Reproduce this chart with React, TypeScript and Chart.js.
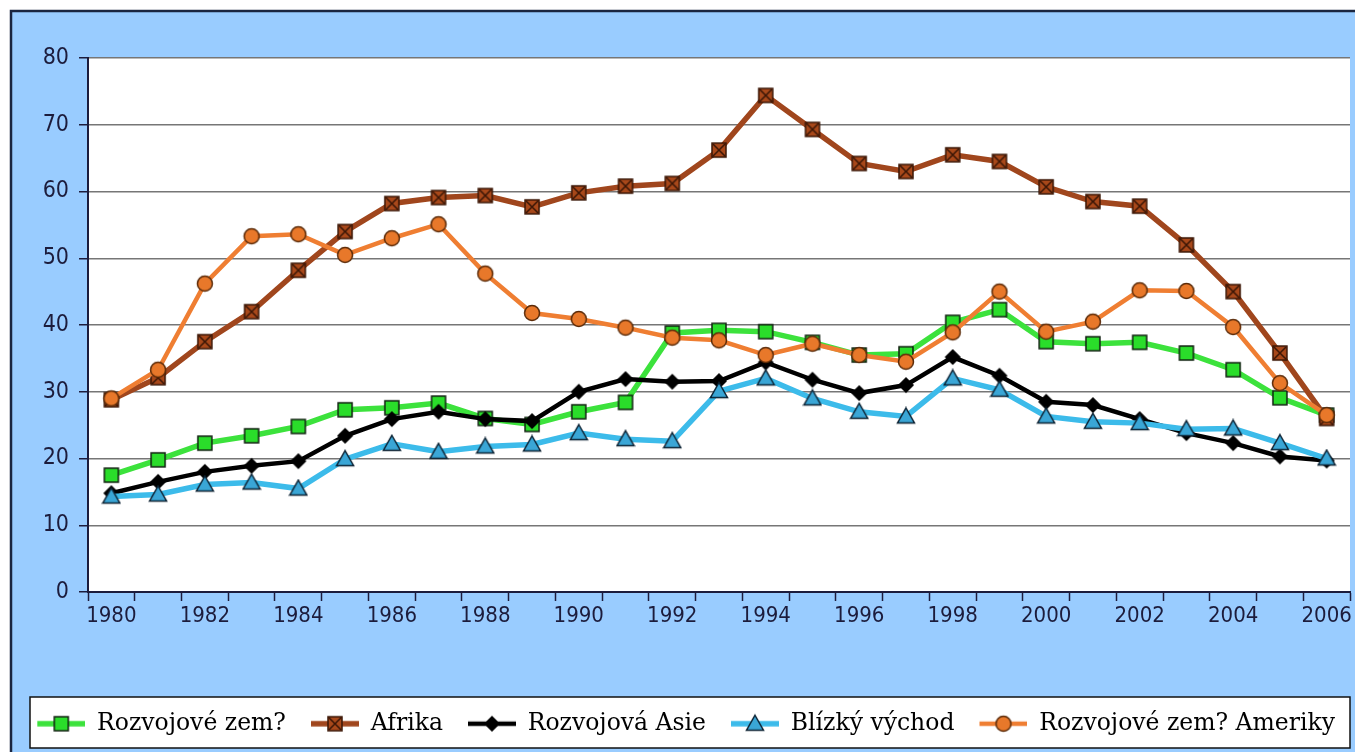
import React, { useEffect, useRef } from 'react';
import { Chart, registerables } from 'chart.js';

Chart.register(...registerables);

const years = [
  '1980', '1981', '1982', '1983', '1984', '1985', '1986', '1987', '1988', '1989',
  '1990', '1991', '1992', '1993', '1994', '1995', '1996', '1997', '1998', '1999',
  '2000', '2001', '2002', '2003', '2004', '2005', '2006',
];

const seriesNames = [
  'Rozvojové zem?',
  'Afrika',
  'Rozvojová Asie',
  'Blízký východ',
  'Rozvojové zem? Ameriky',
];

const rozvojoveZeme = [17.5, 19.8, 22.3, 23.4, 24.8, 27.3, 27.6, 28.3, 26.0, 25.1, 27.0, 28.4, 38.8, 39.2, 39.0, 37.4, 35.5, 35.7, 40.4, 42.3, 37.5, 37.2, 37.4, 35.8, 33.3, 29.1, 26.5];
const afrika = [28.8, 32.1, 37.5, 42.0, 48.2, 54.0, 58.2, 59.1, 59.4, 57.7, 59.8, 60.8, 61.2, 66.2, 74.4, 69.3, 64.2, 63.0, 65.5, 64.5, 60.7, 58.5, 57.8, 52.0, 45.0, 35.8, 26.0];
const rozvojovaAsie = [14.8, 16.5, 18.0, 18.9, 19.6, 23.4, 25.9, 27.0, 25.9, 25.6, 30.0, 31.9, 31.5, 31.6, 34.4, 31.8, 29.8, 31.0, 35.2, 32.4, 28.5, 28.0, 25.9, 23.8, 22.3, 20.3, 19.7];
const blizkyVychod = [14.3, 14.6, 16.1, 16.4, 15.5, 19.9, 22.2, 21.0, 21.8, 22.1, 23.8, 22.9, 22.6, 30.1, 32.0, 29.0, 27.0, 26.3, 32.0, 30.3, 26.3, 25.5, 25.3, 24.4, 24.5, 22.3, 20.0];
const rozvojoveZemeAmeriky = [29.0, 33.3, 46.2, 53.3, 53.6, 50.5, 53.0, 55.1, 47.7, 41.8, 40.9, 39.6, 38.1, 37.7, 35.5, 37.2, 35.5, 34.5, 38.9, 45.0, 39.0, 40.5, 45.2, 45.1, 39.7, 31.3, 26.5];

const yMin = 0;
const yMax = 80;
const yStep = 10;

const AXIS = '#1c1c3c';
const BG = '#99ccff';
const AXIS_FONT = "'Liberation Sans Narrow', 'DejaVu Sans Condensed', 'Liberation Sans', sans-serif";
const LEGEND_FONT = "'DejaVu Serif', serif";

type Kind = 'square' | 'cross' | 'diamond' | 'triangle' | 'circle';

interface Style {
  kind: Kind;
  line: string;
  lineWidth: number;
  fill: string;
  stroke: string;
  order: number;
}

const styles: Style[] = [
  { kind: 'square', line: '#3ce23c', lineWidth: 5.5, fill: '#2add2a', stroke: '#102010', order: 5 },
  { kind: 'cross', line: '#a0461d', lineWidth: 5.5, fill: '#a8481a', stroke: '#3a1606', order: 4 },
  { kind: 'diamond', line: '#000000', lineWidth: 4.5, fill: '#000000', stroke: '#000000', order: 3 },
  { kind: 'triangle', line: '#3cbbea', lineWidth: 5.5, fill: '#3aa6d6', stroke: '#0c2233', order: 2 },
  { kind: 'circle', line: '#ef7e32', lineWidth: 4.5, fill: '#e8782a', stroke: '#5a2a08', order: 1 },
];

function drawMarker(ctx: CanvasRenderingContext2D, st: Style, cx: number, cy: number) {
  ctx.save();
  ctx.fillStyle = st.fill;
  ctx.strokeStyle = st.stroke;
  ctx.lineWidth = 1.5;
  ctx.beginPath();
  if (st.kind === 'square' || st.kind === 'cross') {
    const h = 7;
    ctx.rect(cx - h, cy - h, 2 * h, 2 * h);
    ctx.fill();
    ctx.stroke();
    if (st.kind === 'cross') {
      ctx.beginPath();
      ctx.moveTo(cx - h + 1, cy - h + 1);
      ctx.lineTo(cx + h - 1, cy + h - 1);
      ctx.moveTo(cx + h - 1, cy - h + 1);
      ctx.lineTo(cx - h + 1, cy + h - 1);
      ctx.stroke();
    }
  } else if (st.kind === 'diamond') {
    const r = 7;
    ctx.moveTo(cx, cy - r);
    ctx.lineTo(cx + r, cy);
    ctx.lineTo(cx, cy + r);
    ctx.lineTo(cx - r, cy);
    ctx.closePath();
    ctx.fill();
    ctx.stroke();
  } else if (st.kind === 'triangle') {
    ctx.moveTo(cx, cy - 8.5);
    ctx.lineTo(cx + 8.5, cy + 6.5);
    ctx.lineTo(cx - 8.5, cy + 6.5);
    ctx.closePath();
    ctx.fill();
    ctx.stroke();
  } else {
    ctx.arc(cx, cy, 7.5, 0, Math.PI * 2);
    ctx.fill();
    ctx.stroke();
  }
  ctx.restore();
}

function markerCanvas(st: Style): HTMLCanvasElement {
  const c = document.createElement('canvas');
  c.width = 20;
  c.height = 20;
  const ctx = c.getContext('2d')!;
  drawMarker(ctx, st, 10, 10);
  return c;
}

const ICON_W = 58;
const ICON_LINE = 48;
const ICON_H = 22;

function legendIcon(st: Style): HTMLCanvasElement {
  const c = document.createElement('canvas');
  c.width = ICON_W;
  c.height = ICON_H;
  const ctx = c.getContext('2d')!;
  ctx.strokeStyle = st.line;
  ctx.lineWidth = st.lineWidth;
  ctx.beginPath();
  ctx.moveTo(ICON_W - ICON_LINE, ICON_H / 2);
  ctx.lineTo(ICON_W, ICON_H / 2);
  ctx.stroke();
  drawMarker(ctx, st, ICON_W - ICON_LINE / 2, ICON_H / 2);
  return c;
}

const backgroundPlugin = {
  id: 'excelBackground',
  beforeDraw(chart: any) {
    const { ctx, width, height, chartArea, legend } = chart;
    ctx.save();
    ctx.fillStyle = '#ffffff';
    ctx.fillRect(0, 0, width, height);
    ctx.fillStyle = BG;
    ctx.fillRect(10, 10, width - 10, height - 10);
    ctx.strokeStyle = '#1a2540';
    ctx.lineWidth = 2.5;
    ctx.beginPath();
    ctx.moveTo(11, height);
    ctx.lineTo(11, 11);
    ctx.lineTo(width, 11);
    ctx.stroke();
    ctx.fillStyle = '#ffffff';
    ctx.fillRect(chartArea.left, chartArea.top, chartArea.right - chartArea.left, chartArea.bottom - chartArea.top);
    if (legend) {
      const top = legend.top;
      ctx.fillStyle = '#ffffff';
      ctx.fillRect(30, top, 1320, 51);
      ctx.strokeStyle = '#111111';
      ctx.lineWidth = 1.5;
      ctx.strokeRect(30, top, 1320, 51);
    }
    ctx.restore();
  },
};

export default function App() {
  const ref = useRef<HTMLCanvasElement | null>(null);

  useEffect(() => {
    if (!ref.current) return;
    const seriesData = [rozvojoveZeme, afrika, rozvojovaAsie, blizkyVychod, rozvojoveZemeAmeriky];
    const icons = styles.map(legendIcon);
    const datasets = seriesData.map((d, i) => ({
      label: seriesNames[i],
      data: d,
      borderColor: styles[i].line,
      backgroundColor: styles[i].fill,
      borderWidth: styles[i].lineWidth,
      pointStyle: markerCanvas(styles[i]) as any,
      pointRadius: 8,
      pointHoverRadius: 8,
      tension: 0,
      fill: false,
      order: styles[i].order,
    }));

    const chart = new Chart(ref.current, {
      type: 'line',
      data: { labels: years, datasets },
      plugins: [backgroundPlugin],
      options: {
        animation: false,
        responsive: false,
        events: [],
        layout: { autoPadding: false, padding: { left: 0, right: 5, top: 58, bottom: 6.5 } },
        scales: {
          x: {
            type: 'category',
            offset: true,
            grid: {
              offset: true,
              drawOnChartArea: false,
              drawTicks: true,
              tickLength: 9,
              tickColor: AXIS,
              tickWidth: 1.5,
            },
            border: { color: AXIS, width: 2 },
            ticks: {
              autoSkip: false,
              maxRotation: 0,
              minRotation: 0,
              padding: 2,
              color: AXIS,
              font: { family: AXIS_FONT, size: 22 },
              callback: (_v: any, i: number) => (i % 2 === 0 ? years[i] : ''),
            },
            afterFit: (s: any) => {
              s.height = 105;
              s.paddingLeft = 0;
              s.paddingRight = 0;
            },
          },
          y: {
            min: yMin,
            max: yMax,
            grid: {
              color: '#767676',
              lineWidth: 1.5,
              drawTicks: true,
              tickLength: 9,
              tickColor: AXIS,
              tickWidth: 1.5,
            },
            border: { color: AXIS, width: 2 },
            ticks: {
              stepSize: yStep,
              padding: 10,
              color: AXIS,
              font: { family: AXIS_FONT, size: 23 },
            },
            afterFit: (s: any) => {
              s.width = 88;
            },
          },
        },
        plugins: {
          tooltip: { enabled: false },
          title: { display: false },
          legend: {
            position: 'bottom',
            align: 'end',
            labels: {
              usePointStyle: true,
              pointStyleWidth: ICON_W,
              padding: 15,
              color: '#000000',
              font: { family: LEGEND_FONT, size: 23.5 },
              generateLabels: (c: any) =>
                c.data.datasets.map((ds: any, i: number) => ({
                  text: ds.label,
                  fillStyle: styles[i].fill,
                  strokeStyle: styles[i].line,
                  lineWidth: 0,
                  pointStyle: icons[i],
                  hidden: false,
                  datasetIndex: i,
                  fontColor: '#000000',
                })),
            },
          },
        },
      } as any,
    });
    return () => chart.destroy();
  }, []);

  return (
    <div style={{ position: 'fixed', left: 0, top: 0, width: 1355, height: 752, background: '#fff' }}>
      <canvas ref={ref} width={1355} height={752} style={{ display: 'block', width: 1355, height: 752 }} />
    </div>
  );
}
